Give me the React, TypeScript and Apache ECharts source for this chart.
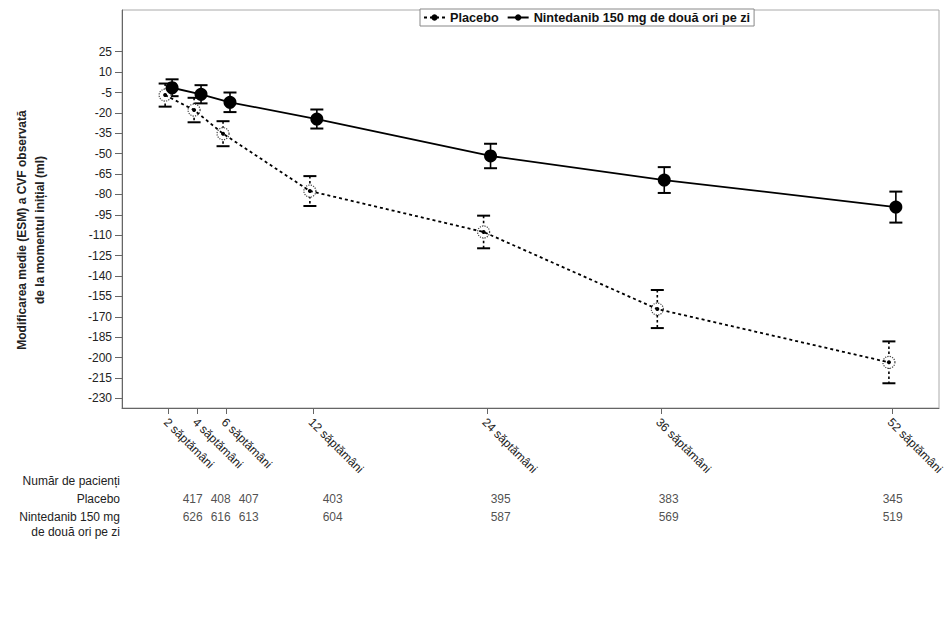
import React, { useEffect, useRef } from "react";
import * as echarts from "echarts";

const weeks = [2, 4, 6, 12, 24, 36, 52];
const placeboMean = [-6.9, -17.9, -35.3, -77.5, -107.6, -164.3, -203.5];
const placeboSE = [8.5, 9.0, 9.2, 11.0, 12.0, 14.0, 15.4];
const ninMean = [-1.5, -6.3, -12.2, -24.5, -51.7, -69.4, -89.3];
const ninSE = [6.2, 6.7, 7.2, 7.0, 9.0, 9.5, 11.4];
const placeboN = [417, 408, 407, 403, 395, 383, 345];
const ninN = [626, 616, 613, 604, 587, 569, 519];
const yTicks = [25, 10, -5, -20, -35, -50, -65, -80, -95, -110, -125, -140, -155, -170, -185, -200, -215, -230];
const weekLabel = "săptămâni";
const seriesNames = ["Placebo", "Nintedanib 150 mg de două ori pe zi"];
const rowLabels = ["Număr de pacienți", "Placebo", "Nintedanib 150 mg", "de două ori pe zi"];
const yTitle = ["Modificarea medie (ESM) a CVF observată", "de la momentul inițial (ml)"];

const FONT = "'Liberation Sans', Arial, sans-serif";
const PLACEBO_DX = -0.24;
const NIN_DX = 0.24;

export default function App() {
  const ref = useRef<HTMLDivElement>(null);
  useEffect(() => {
    if (!ref.current) return;
    const chart = echarts.init(ref.current, null, { renderer: "svg" });

    const pPts = weeks.map((w, i) => [w + PLACEBO_DX, placeboMean[i]]);
    const nPts = weeks.map((w, i) => [w + NIN_DX, ninMean[i]]);
    const pErr = weeks.map((w, i) => [w + PLACEBO_DX, placeboMean[i] - placeboSE[i], placeboMean[i] + placeboSE[i]]);
    const nErr = weeks.map((w, i) => [w + NIN_DX, ninMean[i] - ninSE[i], ninMean[i] + ninSE[i]]);

    const errRender = (dashed: boolean) => (params: any, api: any) => {
      const x = api.value(0);
      const lo = api.coord([x, api.value(1)]);
      const hi = api.coord([x, api.value(2)]);
      const hw = 6.5;
      return {
        type: "group",
        children: [
          {
            type: "line",
            shape: { x1: hi[0], y1: hi[1], x2: lo[0], y2: lo[1] },
            style: { stroke: "#000", lineWidth: 1.6, lineDash: dashed ? [2.5, 2.5] : null },
          },
          {
            type: "line",
            shape: { x1: hi[0] - hw, y1: hi[1], x2: hi[0] + hw, y2: hi[1] },
            style: { stroke: "#000", lineWidth: 2 },
          },
          {
            type: "line",
            shape: { x1: lo[0] - hw, y1: lo[1], x2: lo[0] + hw, y2: lo[1] },
            style: { stroke: "#000", lineWidth: 2 },
          },
        ],
      };
    };

    const tableLabel = (v: any) => String(v.value[2]);

    chart.setOption({
      animation: false,
      textStyle: { fontFamily: FONT },
      legend: {
        data: seriesNames,
        left: 420,
        top: 9,
        padding: [2, 4, 2, 3],
        itemGap: 8,
        itemWidth: 21,
        itemHeight: 8,
        borderColor: "#888",
        borderWidth: 1,
        backgroundColor: "#fff",
        textStyle: { fontFamily: FONT, fontSize: 12.7, fontWeight: "bold", color: "#111" },
        selectedMode: false,
      },
      grid: [
        { left: 122, right: 13, top: 10, bottom: 213, show: true, borderColor: "#aaa", borderWidth: 1 },
        { left: 122, right: 13, top: 499, height: 18 },
      ],
      xAxis: [
        {
          type: "value",
          gridIndex: 0,
          min: -1.22,
          max: 55.22,
          splitLine: { show: false },
          axisLine: { show: true, onZero: false, lineStyle: { color: "#666", width: 1 } },
          axisTick: { show: true, length: 6, customValues: weeks, lineStyle: { color: "#666" } },
          axisLabel: {
            customValues: weeks,
            rotate: -45,
            margin: 15,
            fontSize: 12,
            color: "#222",
            fontFamily: FONT,
            padding: [0, 0, 0, -4],
            formatter: (v: number) => `${v} ${weekLabel}`,
          },
        },
        { type: "value", gridIndex: 1, min: -3.05, max: 55.31, show: false },
      ],
      yAxis: [
        {
          type: "value",
          gridIndex: 0,
          min: -237.1,
          max: 55.7,
          splitLine: { show: false },
          axisLine: { show: true, onZero: false, lineStyle: { color: "#666", width: 1 } },
          axisTick: { show: true, length: 7, customValues: yTicks, lineStyle: { color: "#666" } },
          axisLabel: { customValues: yTicks, margin: 10, fontSize: 12, color: "#222", fontFamily: FONT },
        },
        { type: "value", gridIndex: 1, min: 0, max: 1, show: false },
      ],
      series: [
        {
          type: "custom",
          name: "pErr",
          renderItem: errRender(true),
          data: pErr,
          encode: { x: 0, y: [1, 2] },
          z: 1,
          silent: true,
        },
        {
          type: "custom",
          name: "nErr",
          renderItem: errRender(false),
          data: nErr,
          encode: { x: 0, y: [1, 2] },
          z: 1,
          silent: true,
        },
        {
          type: "scatter",
          name: "pMark",
          data: pPts,
          symbol: "circle",
          symbolSize: 12,
          itemStyle: { color: "#fff", opacity: 1, borderColor: "#444", borderWidth: 1.2, borderType: "dotted" },
          z: 2,
          silent: true,
        },
        {
          type: "scatter",
          name: "nMark",
          data: nPts,
          symbol: "circle",
          symbolSize: 13,
          itemStyle: { color: "#000", opacity: 1 },
          z: 2,
          silent: true,
        },
        {
          type: "line",
          name: seriesNames[0],
          data: pPts,
          symbol: "circle",
          symbolSize: 4,
          showSymbol: true,
          itemStyle: { color: "#000" },
          lineStyle: { color: "#000", width: 1.8, type: [3, 3] },
          z: 3,
          silent: true,
        },
        {
          type: "line",
          name: seriesNames[1],
          data: nPts,
          symbol: "circle",
          symbolSize: 4,
          showSymbol: true,
          itemStyle: { color: "#000" },
          lineStyle: { color: "#000", width: 1.8, type: "solid" },
          z: 3,
          silent: true,
        },
        {
          type: "scatter",
          name: "tblP",
          xAxisIndex: 1,
          yAxisIndex: 1,
          data: weeks.map((w, i) => [w, 1, placeboN[i]]),
          symbolSize: 1,
          itemStyle: { color: "rgba(0,0,0,0)" },
          label: { show: true, position: "inside", formatter: tableLabel, fontSize: 12, color: "#222", fontFamily: FONT },
          silent: true,
        },
        {
          type: "scatter",
          name: "tblN",
          xAxisIndex: 1,
          yAxisIndex: 1,
          data: weeks.map((w, i) => [w, 0, ninN[i]]),
          symbolSize: 1,
          itemStyle: { color: "rgba(0,0,0,0)" },
          label: { show: true, position: "inside", formatter: tableLabel, fontSize: 12, color: "#222", fontFamily: FONT },
          silent: true,
        },
      ],
      graphic: [
        {
          type: "text",
          x: 31,
          y: 230,
          rotation: Math.PI / 2,
          style: {
            text: yTitle.join("\n"),
            fontFamily: FONT,
            fontSize: 12,
            fontWeight: "bold",
            fill: "#222",
            align: "center",
            verticalAlign: "middle",
            lineHeight: 18,
          },
        },
        ...rowLabels.map((t, i) => ({
          type: "text",
          x: 120,
          y: [481, 499, 517, 532][i],
          style: {
            text: t,
            fontFamily: FONT,
            fontSize: 12,
            fill: "#222",
            align: "right",
            verticalAlign: "middle",
          },
        })),
      ],
    });
    return () => chart.dispose();
  }, []);
  return <div ref={ref} style={{ position: "absolute", left: 0, top: 0, width: 952, height: 621 }} />;
}
